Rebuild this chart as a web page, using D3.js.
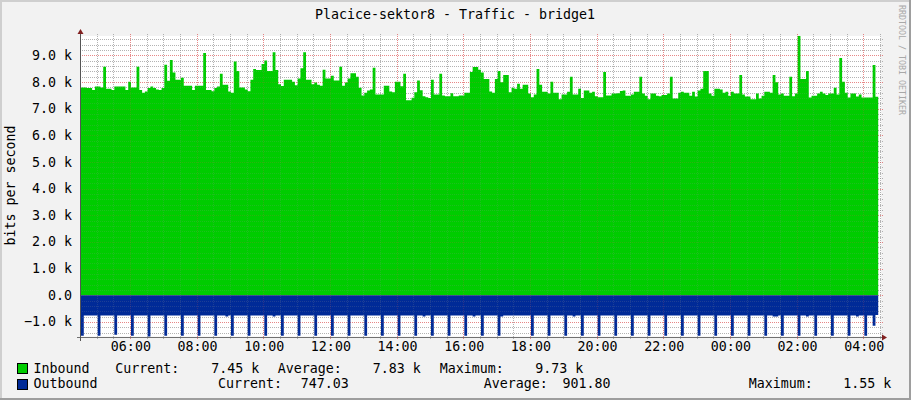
<!DOCTYPE html>
<html><head><meta charset="utf-8">
<script src="https://cdn.jsdelivr.net/npm/d3@7"></script>
<style>
html,body{margin:0;padding:0;background:#f2f2f2;}
svg{display:block;}
text{font-family:"DejaVu Sans Mono",monospace;}
</style>
</head><body>
<svg id="chart" width="911" height="400"></svg>
<script>
// ---------------- data ----------------
const titleText = "Placice-sektor8 - Traffic - bridge1";
const yAxisLabel = "bits per second";
const watermark = "RRDTOOL / TOBI OETIKER";
const seriesNames = ["Inbound", "Outbound"];
const seriesColors = ["#00cc00", "#002a97"];
const statLabels = ["Current:", "Average:", "Maximum:"];
const inboundStats = ["7.45 k", "7.83 k", "9.73 k"];
const outboundStats = ["747.03", "901.80", "1.55 k"];
const startTime = new Date(2020, 0, 1, 4, 32);
const endTime = new Date(2020, 0, 2, 4, 32);
const stepMinutes = 5;
const yDomain = [-1.55, 9.73]; // k bits/s
const yMajorTicks = [-1, 0, 1, 2, 3, 4, 5, 6, 7, 8, 9];

// inbound traffic, k bits/s, one value per 5-minute step
const inbound = [
 7.80,7.80,7.78,7.78,7.70,7.83,7.83,7.80,8.58,7.75,
 7.75,7.70,7.83,7.83,7.83,7.83,7.70,8.01,7.80,7.80,
 8.58,7.70,7.60,7.65,7.78,7.83,7.78,7.72,7.70,7.78,
 8.65,8.05,8.83,8.36,8.09,8.09,8.16,7.86,7.86,7.86,
 7.70,7.86,7.86,7.86,9.09,7.70,7.70,7.66,7.78,7.83,
 8.31,7.90,7.90,7.65,7.60,8.77,8.42,7.80,7.80,7.72,
 7.66,8.09,8.49,8.45,8.45,8.68,8.81,8.42,8.42,9.12,
 8.45,7.92,7.85,8.09,8.09,8.09,8.01,7.88,8.13,8.52,
 9.12,8.09,8.09,7.92,7.98,7.90,7.86,8.46,8.13,8.13,
 8.24,8.06,8.06,8.58,7.86,7.98,8.13,8.33,8.33,8.20,
 7.79,7.50,7.60,7.68,7.72,8.54,7.53,7.53,7.53,7.86,
 7.86,7.65,7.62,8.01,8.01,7.84,8.31,7.32,7.32,7.41,
 7.62,8.06,7.69,7.47,7.43,7.40,8.09,7.53,7.53,8.31,
 7.50,7.47,7.47,7.58,7.47,7.47,7.50,7.50,7.60,7.60,
 8.38,8.57,8.57,8.46,8.36,8.12,8.12,7.65,7.60,8.12,
 8.42,7.99,8.27,8.27,7.62,7.79,7.75,7.94,7.75,7.90,
 7.90,7.57,7.43,7.53,8.49,7.90,7.64,7.64,7.57,8.01,
 7.60,7.60,7.36,7.53,7.53,7.64,8.20,7.53,7.53,7.75,
 7.40,7.68,7.68,7.60,7.64,7.47,7.43,7.43,8.38,7.50,
 7.50,7.57,7.57,7.58,7.67,7.68,7.49,7.49,7.53,7.64,
 7.64,8.20,7.57,7.49,7.36,7.57,7.57,7.49,7.47,7.52,
 7.52,7.57,8.20,7.38,7.38,7.60,7.64,7.60,7.60,7.49,
 7.64,7.46,7.68,7.75,8.42,8.42,7.57,7.49,7.75,7.75,
 7.72,7.60,7.64,7.49,7.64,7.57,7.57,8.27,7.53,7.46,
 7.46,7.36,7.36,7.57,7.38,7.49,7.64,7.64,7.60,8.27,
 7.99,7.53,7.57,7.49,7.49,8.20,7.47,7.57,9.73,8.12,
 8.12,8.42,7.42,7.49,7.49,7.57,7.64,7.57,7.52,7.57,
 7.57,7.79,7.53,8.90,8.01,7.60,7.42,7.57,7.57,7.46,
 7.53,7.42,7.42,7.42,7.42,8.64,7.45
];

// outbound traffic, k bits/s (drawn below zero), one value per 5-minute step
const outbound = [
 -1.52,-0.76,-0.76,-0.76,-0.76,-0.76,
 -1.52,-0.76,-0.76,-0.76,-0.76,-0.76,
 -1.48,-0.76,-0.76,-0.76,-0.76,-0.76,
 -1.52,-0.76,-0.76,-0.76,-0.76,-0.76,
 -1.55,-0.76,-0.76,-0.76,-0.76,-0.76,
 -1.52,-0.76,-0.76,-0.76,-0.76,-0.76,
 -1.52,-0.76,-0.76,-0.76,-0.76,-0.76,
 -1.52,-0.76,-0.76,-0.76,-0.76,-0.76,
 -1.52,-0.76,-0.76,-0.76,-0.80,-0.76,
 -1.52,-0.76,-0.76,-0.76,-0.76,-0.76,
 -1.52,-0.76,-0.76,-0.76,-0.76,-0.76,
 -1.52,-0.76,-0.76,-0.80,-0.76,-0.76,
 -1.52,-0.76,-0.76,-0.76,-0.76,-0.76,
 -1.52,-0.76,-0.76,-0.76,-0.76,-0.76,
 -1.52,-0.76,-0.76,-0.76,-0.76,-0.76,
 -1.52,-0.76,-0.76,-0.76,-0.76,-0.76,
 -1.52,-0.76,-0.76,-0.76,-0.76,-0.76,
 -1.52,-0.76,-0.76,-0.76,-0.76,-0.76,
 -1.52,-0.76,-0.76,-0.76,-0.76,-0.76,
 -1.52,-0.76,-0.76,-0.76,-0.76,-0.76,
 -1.52,-0.76,-0.76,-0.80,-0.76,-0.76,
 -1.52,-0.76,-0.76,-0.76,-0.76,-0.76,
 -1.52,-0.76,-0.76,-0.76,-0.76,-0.76,
 -1.52,-0.76,-0.76,-0.80,-0.76,-0.76,
 -1.52,-0.76,-0.76,-0.76,-0.76,-0.76,
 -1.52,-0.80,-0.76,-0.76,-0.76,-0.76,
 -0.76,-0.76,-0.76,-0.76,-0.76,-0.76,
 -1.52,-0.76,-0.76,-0.76,-0.76,-0.76,
 -1.52,-0.76,-0.76,-0.76,-0.76,-0.76,
 -1.52,-0.76,-0.76,-0.80,-0.76,-0.76,
 -1.52,-0.76,-0.76,-0.76,-0.76,-0.76,
 -1.52,-0.76,-0.76,-0.76,-0.76,-0.76,
 -1.52,-0.76,-0.76,-0.76,-0.76,-0.76,
 -1.52,-0.76,-0.76,-0.76,-0.76,-0.76,
 -1.52,-0.76,-0.76,-0.76,-0.76,-0.76,
 -1.52,-0.76,-0.76,-0.76,-0.76,-0.76,
 -1.52,-0.76,-0.76,-0.76,-0.76,-0.76,
 -1.52,-0.76,-0.76,-0.76,-0.76,-0.76,
 -1.52,-0.76,-0.76,-0.76,-0.76,-0.76,
 -1.52,-0.76,-0.76,-0.76,-0.76,-0.76,
 -1.52,-0.76,-0.76,-0.76,-0.76,-0.76,
 -1.52,-0.76,-0.76,-0.80,-0.80,-0.76,
 -1.52,-0.76,-0.76,-0.76,-0.76,-0.76,
 -1.52,-0.76,-0.76,-0.80,-0.76,-0.76,
 -1.52,-0.76,-0.76,-0.76,-0.76,-0.76,
 -1.52,-0.76,-0.76,-0.76,-0.76,-0.76,
 -1.52,-0.76,-0.76,-0.80,-0.76,-0.76,
 -1.52,-0.76,-0.76,-1.15,-0.747
];

// ---------------- layout ----------------
const W = 911, H = 400;
const plot = {left: 81, right: 881, top: 36, bottom: 336.5};
const FS = "13.3px";
const arrowColor = "#801f1f";

const svg = d3.select("#chart");

// dotted-line patterns
const defs = svg.append("defs");
function dotPattern(id, w, h, color){
  const p = defs.append("pattern").attr("id",id).attr("patternUnits","userSpaceOnUse")
    .attr("width",w).attr("height",h);
  p.append("rect").attr("width",1).attr("height",1).attr("fill",color);
}
// strong grid (seen on the empty canvas) and faint grid (seen through the filled areas)
dotPattern("hMinorS",2,1,"rgba(143,143,143,0.6)");
dotPattern("vMinorS",1,2,"rgba(143,143,143,0.6)");
dotPattern("hMajorS",2,1,"rgba(222,79,79,0.6)");
dotPattern("vMajorS",1,2,"rgba(222,79,79,0.6)");
dotPattern("hMinorF",2,1,"rgba(143,143,143,0.2)");
dotPattern("vMinorF",1,2,"rgba(143,143,143,0.2)");
dotPattern("hMajorF",2,1,"rgba(222,79,79,0.2)");
dotPattern("vMajorF",1,2,"rgba(222,79,79,0.2)");

// background + 3D frame
svg.append("rect").attr("x",0).attr("y",0).attr("width",W).attr("height",H).attr("fill","#f2f2f2");
svg.append("path").attr("d",`M0,${H} V0 H${W}`).attr("fill","none").attr("stroke","#cfcfcf").attr("stroke-width",4);
svg.append("path").attr("d",`M0,${H} H${W} V0`).attr("fill","none").attr("stroke","#9e9e9e").attr("stroke-width",4);

const x = d3.scaleTime().domain([startTime, endTime]).range([plot.left, plot.right]);
const y = d3.scaleLinear().domain(yDomain).range([plot.bottom, plot.top]);

// canvas
svg.append("rect").attr("x",plot.left).attr("y",plot.top)
  .attr("width",plot.right-plot.left).attr("height",plot.bottom-plot.top).attr("fill","#ffffff");

const minorY = d3.range(-7, 49).map(k=>k*0.2).filter(v=>v>=yDomain[0] && v<=yDomain[1] && Math.abs(v-Math.round(v))>1e-6);
const minorX = x.ticks(d3.timeMinute.every(30)).filter(d=>d.getMinutes()!==0 || d.getHours()%2!==0);
const majorX = x.ticks(d3.timeHour.every(2));

function drawGrid(suffix){
  const g = svg.append("g").attr("shape-rendering","crispEdges");
  g.selectAll("rect.hmin").data(minorY).join("rect").attr("class","hmin")
    .attr("x",plot.left-2).attr("width",plot.right-plot.left+5)
    .attr("y",d=>Math.round(y(d))).attr("height",1).attr("fill",`url(#hMinor${suffix})`);
  g.selectAll("rect.vmin").data(minorX).join("rect").attr("class","vmin")
    .attr("y",plot.top-2).attr("height",plot.bottom-plot.top+4)
    .attr("x",d=>Math.round(x(d))).attr("width",1).attr("fill",`url(#vMinor${suffix})`);
  g.selectAll("rect.hmaj").data(yMajorTicks).join("rect").attr("class","hmaj")
    .attr("x",plot.left-2).attr("width",plot.right-plot.left+5)
    .attr("y",d=>Math.round(y(d))).attr("height",1).attr("fill",`url(#hMajor${suffix})`);
  g.selectAll("rect.vmaj").data(majorX).join("rect").attr("class","vmaj")
    .attr("y",plot.top-2).attr("height",plot.bottom-plot.top+4)
    .attr("x",d=>Math.round(x(d))).attr("width",1).attr("fill",`url(#vMajor${suffix})`);
}

drawGrid("S");

function toPoints(arr){
  const pts = arr.map((v,i)=>({t:d3.timeMinute.offset(startTime, i*stepMinutes), v}));
  // close the last step so the final sample gets its width
  pts.push({t:d3.timeMinute.offset(startTime, arr.length*stepMinutes), v:arr[arr.length-1]});
  return pts;
}
const area = d3.area().curve(d3.curveStepAfter)
  .x(d=>x(d.t)).y0(y(0)).y1(d=>y(d.v));

svg.append("path").datum(toPoints(inbound)).attr("d",area).attr("fill",seriesColors[0]);
svg.append("path").datum(toPoints(outbound)).attr("d",area).attr("fill",seriesColors[1]);

drawGrid("F");

// axes
const ax = svg.append("g").attr("shape-rendering","crispEdges");
ax.append("line").attr("x1",plot.left-4).attr("x2",plot.right+3)
  .attr("y1",Math.round(plot.bottom)+0.5).attr("y2",Math.round(plot.bottom)+0.5).attr("stroke","#707070");
ax.append("line").attr("x1",plot.left-0.5).attr("x2",plot.left-0.5)
  .attr("y1",plot.bottom+4).attr("y2",plot.top-4).attr("stroke","#555");
svg.append("path").attr("d",`M${plot.left-3.5},${plot.top-2} L${plot.left+2.5},${plot.top-2} L${plot.left-0.5},${plot.top-7} Z`).attr("fill",arrowColor);
svg.append("path").attr("d",`M${plot.right+1},${Math.round(plot.bottom)-2.5} L${plot.right+1},${Math.round(plot.bottom)+3.5} L${plot.right+6},${Math.round(plot.bottom)+0.5} Z`).attr("fill",arrowColor);

// y tick labels
const fmtY = d3.format(".1f");
svg.selectAll("text.ylab").data(yMajorTicks).join("text").attr("class","ylab")
  .attr("x",72).attr("y",d=>y(d)+4.5).attr("text-anchor","end")
  .attr("font-size",FS).attr("fill","#000")
  .text(d=> d===0 ? "0.0" : fmtY(d)+" k");

// x tick labels
const fmtX = d3.timeFormat("%H:%M");
svg.selectAll("text.xlab").data(majorX).join("text").attr("class","xlab")
  .attr("x",d=>x(d)+1).attr("y",351).attr("text-anchor","middle")
  .attr("font-size",FS).attr("fill","#000")
  .text(fmtX);

// title
svg.append("text").attr("x",455).attr("y",18.5).attr("text-anchor","middle")
  .attr("font-size",FS).attr("fill","#000").text(titleText);

// y axis label
svg.append("text").attr("transform","translate(15,185.5) rotate(-90)").attr("text-anchor","middle")
  .attr("font-size",FS).attr("fill","#000").text(yAxisLabel);

// watermark
svg.append("text").attr("transform","translate(899,5) rotate(90)")
  .attr("font-size","8.3px").attr("fill","#a8a8a8").text(watermark);

// legend
const legendRows = [
  {name:seriesNames[0], color:seriesColors[0], stats:inboundStats, base:372.5, box:363.5,
   labelX:[116, 278.5, 440.5], valX:[212, 373.5, 536]},
  {name:seriesNames[1], color:seriesColors[1], stats:outboundStats, base:388, box:379.5,
   labelX:[218.8, 484.5, 749.5], valX:[301.5, 563.3, 844]}
];
legendRows.forEach(r=>{
  svg.append("rect").attr("x",17.5).attr("y",r.box).attr("width",10).attr("height",10)
    .attr("fill",r.color).attr("stroke","#000").attr("stroke-width",1);
  svg.append("text").attr("x",33.5).attr("y",r.base).attr("font-size",FS).text(r.name);
  statLabels.forEach((lab,i)=>{
    svg.append("text").attr("x",r.labelX[i]-0.8).attr("y",r.base).attr("font-size",FS).text(lab);
    svg.append("text").attr("x",r.valX[i]-0.8).attr("y",r.base).attr("font-size",FS).text(r.stats[i]);
  });
});
</script>
</body></html>
